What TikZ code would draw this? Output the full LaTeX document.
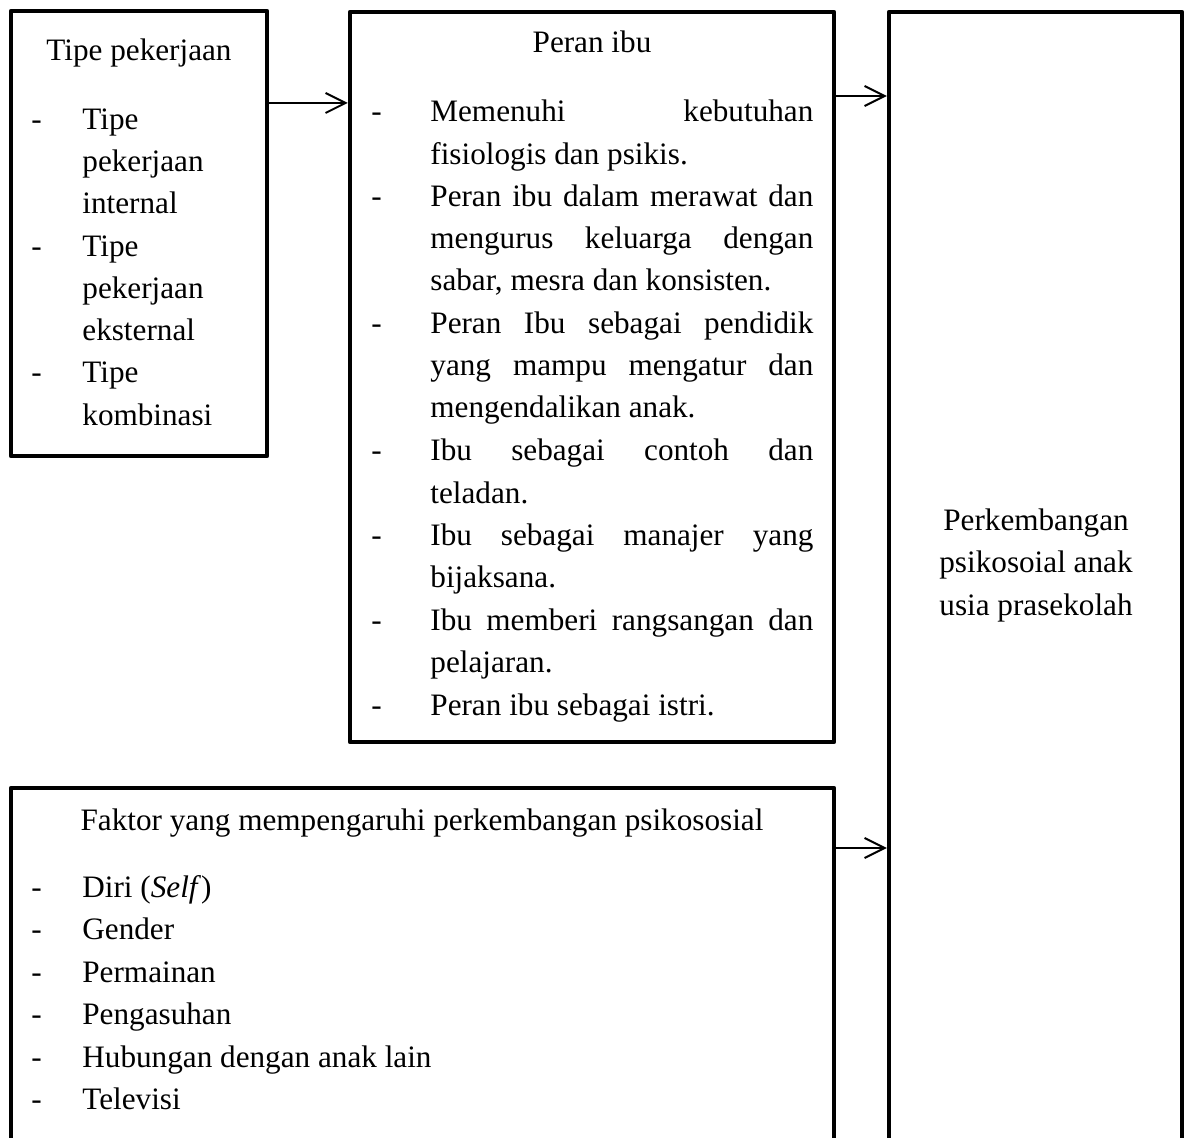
\documentclass[tikz,border=0pt]{standalone}
\usepackage{fontspec}
\setmainfont{Liberation Serif}
\usetikzlibrary{arrows.meta,fit}
\newcommand{\jline}[1]{\makebox[191.5pt][s]{#1}}
\begin{document}
\begin{tikzpicture}[x=0.5pt,y=-0.5pt,
  box/.style={draw, line width=2.25pt, line join=round, inner sep=0pt},
  txt/.style={inner sep=0pt, anchor=base west, font=\fontsize{15.6pt}{21pt}\selectfont},
  ctxt/.style={txt, anchor=base},
  arr/.style={-{Straight Barb[length=10pt,width=10pt,line width=1pt]}, line width=1pt}]
\useasboundingbox (0,0) rectangle (1187,1138);
\clip (0,0) rectangle (1187,1138);
\fill[white] (0,0) rectangle (1187,1138);

% boxes
\node[box, fit={(11,11) (267,456)}] (b1) {};
\node[box, fit={(350,12) (834,742)}] (b2) {};
\node[box, fit={(889,12) (1182,1170)}] (b3) {};
\node[box, fit={(11,788) (834,1170)}] (b4) {};

% arrows
\coordinate (a1) at (0,103);
\coordinate (a2) at (0,96);
\coordinate (a3) at (0,848);
\draw[arr] (a1 -| b1.east) -- (a1 -| b2.west);
\draw[arr] (a2 -| b2.east) -- (a2 -| b3.west);
\draw[arr] (a3 -| b4.east) -- (a3 -| b3.west);

% box 1 text
\node[ctxt] (t1) at (139,61) {Tipe pekerjaan};
\node[txt] (t1d1) at (31,130) {-};
\node[txt] (t1a) at (82,130) {Tipe};
\node[txt] (t1b) at (82,172) {pekerjaan};
\node[txt] (t1c) at (82,214) {internal};
\node[txt] (t1d2) at (31,256.5) {-};
\node[txt] (t1e) at (82,256.5) {Tipe};
\node[txt] (t1f) at (82,298.5) {pekerjaan};
\node[txt] (t1g) at (82,340.5) {eksternal};
\node[txt] (t1d3) at (31,383) {-};
\node[txt] (t1h) at (82,383) {Tipe};
\node[txt] (t1i) at (82,425.5) {kombinasi};

% box 2 text
\node[ctxt] (t2) at (592,53) {Peran ibu};
\node[txt] (t2d1) at (371,122) {-};
\node[txt] (t2a) at (430,122) {\jline{Memenuhi kebutuhan}};
\node[txt] (t2b) at (430,164.5) {fisiologis dan psikis.};
\node[txt] (t2d2) at (371,206.5) {-};
\node[txt] (t2c) at (430,206.5) {\jline{Peran ibu dalam merawat dan}};
\node[txt] (t2e) at (430,249) {\jline{mengurus keluarga dengan}};
\node[txt] (t2f) at (430,291) {sabar, mesra dan konsisten.};
\node[txt] (t2d3) at (371,333.5) {-};
\node[txt] (t2g) at (430,333.5) {\jline{Peran Ibu sebagai pendidik}};
\node[txt] (t2h) at (430,376) {\jline{yang mampu mengatur dan}};
\node[txt] (t2i) at (430,418) {mengendalikan anak.};
\node[txt] (t2d4) at (371,460.5) {-};
\node[txt] (t2j) at (430,460.5) {\jline{Ibu sebagai contoh dan}};
\node[txt] (t2k) at (430,503) {teladan.};
\node[txt] (t2d5) at (371,545) {-};
\node[txt] (t2l) at (430,545) {\jline{Ibu sebagai manajer yang}};
\node[txt] (t2m) at (430,587.5) {bijaksana.};
\node[txt] (t2d6) at (371,630) {-};
\node[txt] (t2n) at (430,630) {\jline{Ibu memberi rangsangan dan}};
\node[txt] (t2o) at (430,672.5) {pelajaran.};
\node[txt] (t2d7) at (371,715) {-};
\node[txt] (t2p) at (430,715) {Peran ibu sebagai istri.};

% box 3 text
\node[ctxt] (t3a) at (1036,530) {Perkembangan};
\node[ctxt] (t3b) at (1036,572.5) {psikosoial anak};
\node[ctxt] (t3c) at (1036,615) {usia prasekolah};

% box 4 text
\node[ctxt] (t4) at (422,830) {Faktor yang mempengaruhi perkembangan psikososial};
\node[txt] (t4d1) at (31,897) {-};
\node[txt] (t4a) at (82,897) {Diri (\textit{Self})};
\node[txt] (t4d2) at (31,939.5) {-};
\node[txt] (t4b) at (82,939.5) {Gender};
\node[txt] (t4d3) at (31,982) {-};
\node[txt] (t4c) at (82,982) {Permainan};
\node[txt] (t4d4) at (31,1024.5) {-};
\node[txt] (t4e) at (82,1024.5) {Pengasuhan};
\node[txt] (t4d5) at (31,1067) {-};
\node[txt] (t4f) at (82,1067) {Hubungan dengan anak lain};
\node[txt] (t4d6) at (31,1109.5) {-};
\node[txt] (t4g) at (82,1109.5) {Televisi};
\end{tikzpicture}
\end{document}
